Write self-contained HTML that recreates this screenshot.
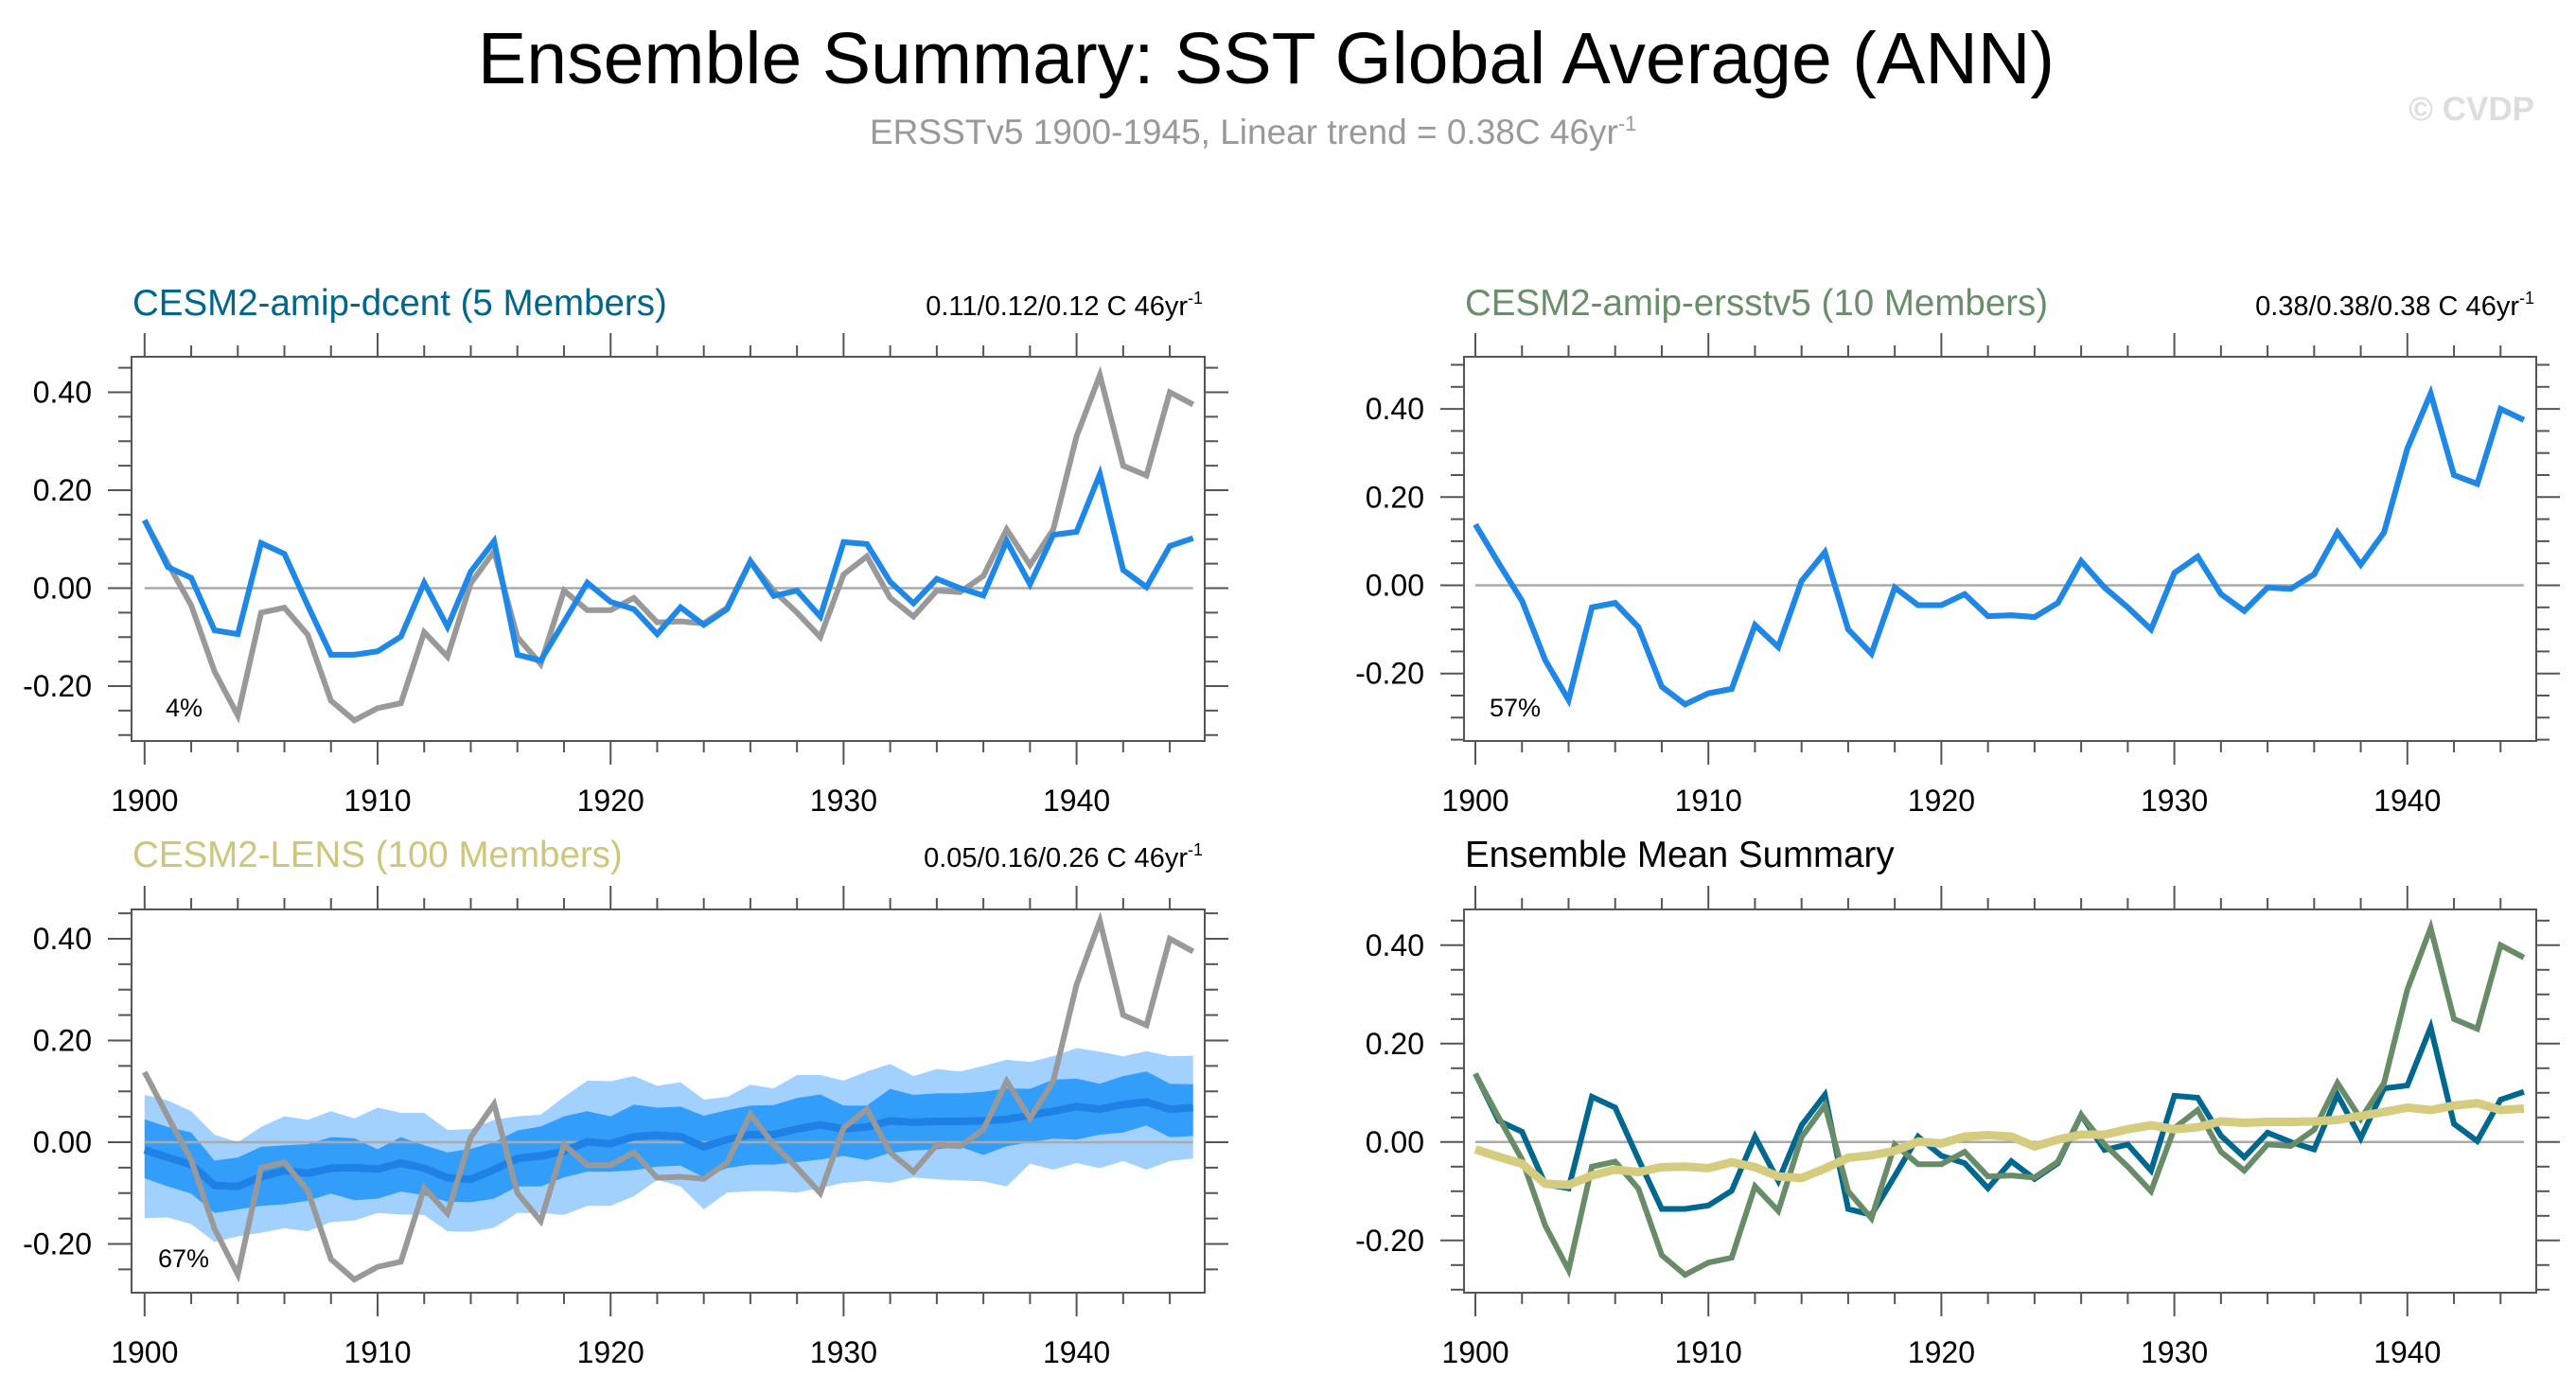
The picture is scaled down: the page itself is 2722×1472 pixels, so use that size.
<!DOCTYPE html>
<html><head><meta charset="utf-8">
<style>
html,body{margin:0;padding:0;background:#fff;}
svg{display:block;font-family:"Liberation Sans",Arial,sans-serif;}
</style></head>
<body>
<svg id="chart" width="2722" height="1472" viewBox="0 0 2722 1472" xmlns="http://www.w3.org/2000/svg">
<text x="1338" y="88" font-size="77" text-anchor="middle" fill="#000">Ensemble Summary: SST Global Average (ANN)</text>
<text x="919" y="152" font-size="37" fill="#999">ERSSTv5 1900-1945, Linear trend = 0.38C 46yr<tspan dy="-14" font-size="22">-1</tspan></text>
<text x="2678" y="127" font-size="35" font-weight="bold" text-anchor="end" fill="#ddd">© CVDP</text>
<g id="plots"></g>
</svg>
<script>
const years = [];
for (let y = 1900; y <= 1945; y++) years.push(y);
const ersst = [0.138,0.05,-0.035,-0.17,-0.26,-0.05,-0.04,-0.095,-0.23,-0.27,-0.245,-0.235,-0.09,-0.14,0.01,0.075,-0.10,-0.155,-0.005,-0.045,-0.045,-0.02,-0.07,-0.068,-0.072,-0.04,0.055,-0.005,-0.05,-0.10,0.028,0.065,-0.02,-0.058,-0.005,-0.008,0.025,0.12,0.047,0.12,0.31,0.435,0.25,0.23,0.40,0.375];
const dcent = [0.139,0.043,0.021,-0.086,-0.094,0.092,0.07,-0.035,-0.136,-0.136,-0.129,-0.099,0.011,-0.079,0.034,0.096,-0.136,-0.148,-0.069,0.011,-0.028,-0.043,-0.094,-0.039,-0.075,-0.043,0.055,-0.016,-0.005,-0.058,0.094,0.09,0.013,-0.031,0.019,0,-0.015,0.096,0.008,0.109,0.115,0.233,0.037,0.002,0.086,0.102];
const ersstAmip = ersst.slice();
const lensMean = [-0.015,-0.03,-0.044,-0.085,-0.087,-0.068,-0.056,-0.061,-0.051,-0.05,-0.053,-0.041,-0.051,-0.07,-0.073,-0.054,-0.032,-0.027,-0.018,0.001,-0.003,0.011,0.014,0.011,-0.009,0.005,0.015,0.015,0.026,0.034,0.026,0.03,0.042,0.039,0.041,0.041,0.042,0.045,0.053,0.061,0.07,0.065,0.074,0.079,0.065,0.068];
const innerHi = [0.045,0.03,0.019,-0.036,-0.03,-0.009,-0.006,-0.004,0.01,0.008,-0.014,0.01,-0.006,-0.02,-0.013,0,0.023,0.031,0.051,0.061,0.051,0.074,0.068,0.07,0.052,0.063,0.072,0.073,0.087,0.094,0.072,0.072,0.105,0.093,0.096,0.096,0.099,0.106,0.105,0.123,0.125,0.115,0.13,0.139,0.115,0.114];
const innerLo = [-0.071,-0.087,-0.101,-0.139,-0.132,-0.125,-0.122,-0.115,-0.101,-0.114,-0.111,-0.097,-0.104,-0.117,-0.118,-0.111,-0.087,-0.087,-0.069,-0.058,-0.058,-0.055,-0.048,-0.046,-0.069,-0.051,-0.044,-0.044,-0.039,-0.034,-0.027,-0.035,-0.021,-0.016,-0.014,-0.009,-0.025,-0.008,0,0.007,0.005,0.015,0.019,0.033,0.01,0.012];
const outerHi = [0.093,0.082,0.061,0.015,0,0.03,0.051,0.044,0.061,0.047,0.068,0.058,0.058,0.024,0.026,0.044,0.051,0.054,0.089,0.121,0.12,0.13,0.111,0.118,0.084,0.089,0.113,0.106,0.132,0.132,0.121,0.139,0.154,0.13,0.144,0.139,0.15,0.162,0.158,0.169,0.185,0.178,0.169,0.179,0.169,0.17];
const outerLo = [-0.149,-0.148,-0.161,-0.196,-0.185,-0.178,-0.169,-0.175,-0.157,-0.154,-0.139,-0.142,-0.143,-0.175,-0.176,-0.168,-0.139,-0.139,-0.143,-0.125,-0.125,-0.106,-0.074,-0.087,-0.132,-0.099,-0.096,-0.096,-0.099,-0.09,-0.08,-0.076,-0.08,-0.069,-0.073,-0.075,-0.077,-0.087,-0.042,-0.054,-0.041,-0.051,-0.037,-0.054,-0.037,-0.032];
const yTickLabels = ["-0.20","0.00","0.20","0.40"];
const yTickValues = [-0.2,0,0.2,0.4];
const xTickLabels = ["1900","1910","1920","1930","1940"];
const xTickValues = [1900,1910,1920,1930,1940];

const NS = "http://www.w3.org/2000/svg";
const root = document.getElementById("plots");
function mk(tag, attrs, parent) {
  const e = document.createElementNS(NS, tag);
  for (const k in attrs) e.setAttribute(k, attrs[k]);
  (parent || root).appendChild(e);
  return e;
}
function panel(cfg) {
  const g = mk("g", {});
  
  
  const X = yr => cfg.x0 + (yr - 1900) * cfg.ppy;
  const Y = v => cfg.y0 - v * cfg.ppu;
  const tk = {stroke: "#555", "stroke-width": 2};
  for (let yr = 1900; yr <= 1945; yr += 2) {
    const major = (yr % 10 === 0);
    const len = major ? 25 : 12;
    const a = mk("line", Object.assign({x1: X(yr), x2: X(yr), y1: cfg.T - len, y2: cfg.T}, tk), g);
    
    
    const b = mk("line", Object.assign({x1: X(yr), x2: X(yr), y1: cfg.B, y2: cfg.B + len}, tk), g);
    
    
  }
  for (let i = -8; i <= 12; i++) {
    const v = i * 0.05;
    const py = Y(v);
    if (py < cfg.T - 0.5 || py > cfg.B + 0.5) continue;
    const major = (i % 4 === 0);
    const len = major ? 25 : 14;
    const a = mk("line", Object.assign({x1: cfg.L - len, x2: cfg.L, y1: py, y2: py}, tk), g);
    
    
    const b = mk("line", Object.assign({x1: cfg.R, x2: cfg.R + len, y1: py, y2: py}, tk), g);
    
    
  }
  yTickValues.forEach((v, i) => {
    const t = mk("text", {x: cfg.L - 42, y: Y(v) + 11, "font-size": 32, "text-anchor": "end", fill: "#000"}, g);
    t.textContent = yTickLabels[i];
    
    
  });
  xTickValues.forEach((v, i) => {
    const t = mk("text", {x: X(v), y: cfg.B + 74, "font-size": 32, "text-anchor": "middle", fill: "#000"}, g);
    t.textContent = xTickLabels[i];
    
    
  });
  const band = (hi, lo, color, nm) => {
    let d = "M" + years.map((yr, i) => X(yr) + "," + Y(hi[i])).join(" L");
    d += " L" + years.slice().reverse().map((yr, j) => X(yr) + "," + Y(lo[lo.length - 1 - j])).join(" L") + " Z";
    const p = mk("path", {d: d, fill: color, stroke: "none"}, g);
    
    
  };
  if (cfg.bands) {
    band(outerHi, outerLo, "#a3d1ff", "outer-spread-band");
    band(innerHi, innerLo, "#339dfa", "inner-spread-band");
  }
  const z = mk("line", {x1: X(1900), x2: X(1945), y1: Y(0), y2: Y(0), stroke: "#aaa", "stroke-width": 2.5}, g);
  
  
  cfg.series.forEach(s => {
    const pts = years.map((yr, i) => X(yr) + "," + Y(s.data[i])).join(" ");
    const p = mk("polyline", {points: pts, fill: "none", stroke: s.color, "stroke-width": s.w, "stroke-linejoin": "miter"}, g);
    
    
  });
  const bx = mk("rect", {x: cfg.L, y: cfg.T, width: cfg.R - cfg.L, height: cfg.B - cfg.T, fill: "none", stroke: "#555", "stroke-width": 2}, g);
  
  
  const t = mk("text", {x: cfg.L + 1, y: cfg.titleY, "font-size": 38.5, fill: cfg.titleColor}, g);
  t.textContent = cfg.title;
  
  
  if (cfg.trend) {
    const r = mk("text", {x: cfg.R - 2, y: cfg.titleY, "font-size": 29, "text-anchor": "end", fill: "#000"}, g);
    
    
    r.appendChild(document.createTextNode(cfg.trend));
    const sp = mk("tspan", {dy: -12, "font-size": 18}, r);
    sp.textContent = "-1";
  }
  if (cfg.pct) {
    const pc = mk("text", {x: cfg.pctX, y: cfg.pctY, "font-size": 27, fill: "#000"}, g);
    pc.textContent = cfg.pct;
    
    
  }
}
panel({name: "panel-amip-dcent", L: 139, R: 1273, T: 377, B: 783, x0: 152.8, ppy: 24.62, y0: 621.5, ppu: 517.5,
  title: "CESM2-amip-dcent (5 Members)", titleColor: "#00668c", titleY: 333, trend: "0.11/0.12/0.12 C 46yr",
  pct: "4%", pctX: 175, pctY: 757,
  series: [{data: ersst, color: "#999", w: 6, name: "ersst-line"}, {data: dcent, color: "#1e88e8", w: 6, name: "dcent-mean-line"}]});
panel({name: "panel-amip-ersstv5", L: 1547, R: 2680, T: 377, B: 783, x0: 1559, ppy: 24.62, y0: 618.5, ppu: 466,
  title: "CESM2-amip-ersstv5 (10 Members)", titleColor: "#6a8d6a", titleY: 333, trend: "0.38/0.38/0.38 C 46yr",
  pct: "57%", pctX: 1574, pctY: 757,
  series: [{data: ersst, color: "#999", w: 6, name: "ersst-line"}, {data: ersstAmip, color: "#1e88e8", w: 6, name: "ersstv5-mean-line"}]});
panel({name: "panel-lens", L: 139, R: 1273, T: 961, B: 1366, x0: 152.8, ppy: 24.62, y0: 1207, ppu: 537.5,
  title: "CESM2-LENS (100 Members)", titleColor: "#cdc67c", titleY: 916, trend: "0.05/0.16/0.26 C 46yr",
  pct: "67%", pctX: 167, pctY: 1339, bands: true,
  series: [{data: lensMean, color: "#1f80e6", w: 8, name: "lens-mean-line"}, {data: ersst, color: "#999", w: 6, name: "ersst-line"}]});
panel({name: "panel-ensemble-mean-summary", L: 1547, R: 2680, T: 961, B: 1366, x0: 1559, ppy: 24.62, y0: 1206.8, ppu: 520,
  title: "Ensemble Mean Summary", titleColor: "#000", titleY: 916,
  series: [{data: dcent, color: "#00688f", w: 6, name: "dcent-summary-line"}, {data: ersstAmip, color: "#688c68", w: 6, name: "ersstv5-summary-line"}, {data: lensMean, color: "#d5cc80", w: 9, name: "lens-summary-line"}]});
</script>
</body></html>
